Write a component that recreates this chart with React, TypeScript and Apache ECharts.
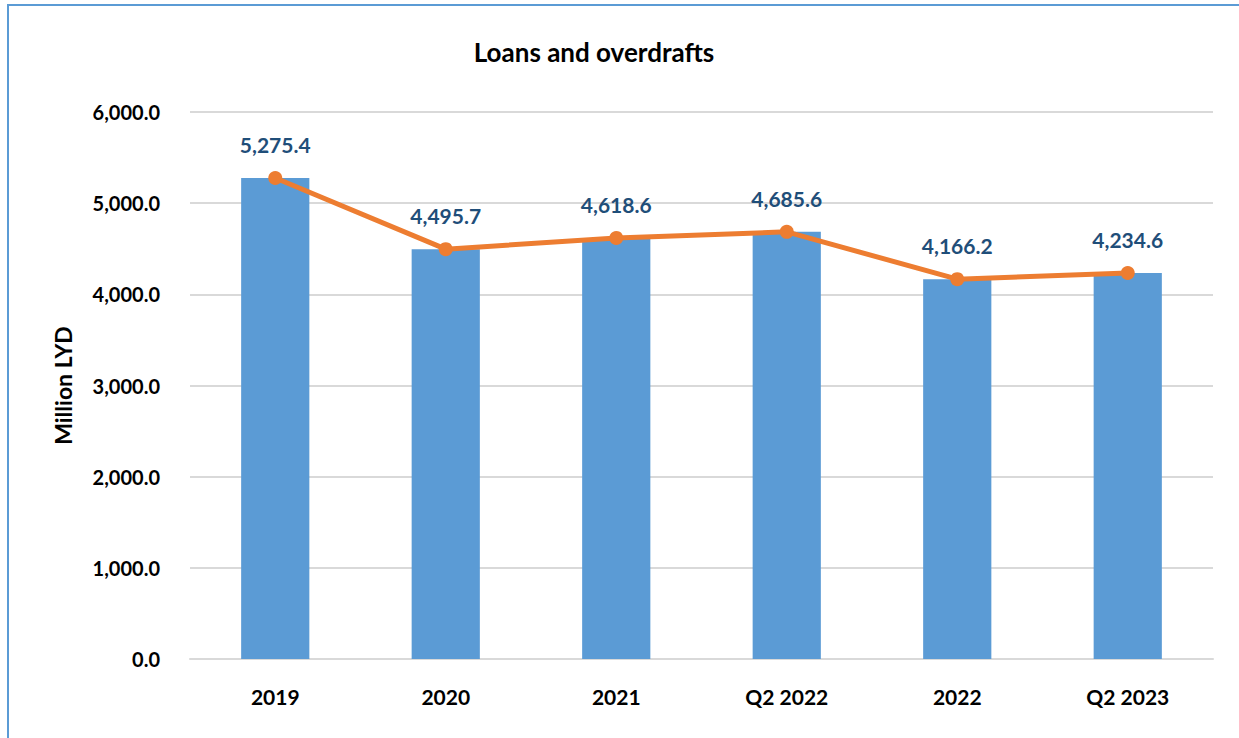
import React, { useEffect, useRef } from "react";
import * as echarts from "echarts";

const categories = ["2019", "2020", "2021", "Q2 2022", "2022", "Q2 2023"];
const barValues = [5275.4, 4495.7, 4618.6, 4685.6, 4166.2, 4234.6];
const lineValues = [5275.4, 4495.7, 4618.6, 4685.6, 4166.2, 4234.6];

const fmt = (v: number) =>
  v.toLocaleString("en-US", { minimumFractionDigits: 1, maximumFractionDigits: 1 });

export default function App() {
  const ref = useRef<HTMLDivElement>(null);
  useEffect(() => {
    const chart = echarts.init(ref.current!, null, { renderer: "svg" });
    const font = "Lato, 'Open Sans', sans-serif";
    chart.setOption({
      animation: false,
      backgroundColor: "#ffffff",
      title: {
        text: "Loans and overdrafts",
        left: 589,
        textAlign: "center",
        top: 34,
        textStyle: { fontFamily: font, fontWeight: "bold", fontSize: 26, color: "#000" },
      },
      graphic: [
        {
          type: "rect",
          shape: { x: 8, y: 5, width: 1300, height: 800 },
          style: { fill: "none", stroke: "#5b9bd5", lineWidth: 2 },
          silent: true,
        },
      ],
      grid: { left: 190, right: 26, top: 112, bottom: 79, containLabel: false },
      xAxis: {
        type: "category",
        data: categories,
        axisLine: { show: true, lineStyle: { color: "#d9d9d9", width: 2 } },
        axisTick: { show: false },
        axisLabel: {
          margin: 27,
          fontFamily: font,
          fontWeight: "bold",
          fontSize: 21,
          color: "#000",
        },
      },
      yAxis: {
        type: "value",
        min: 0,
        max: 6000,
        interval: 1000,
        name: "Million LYD",
        nameLocation: "middle",
        nameGap: 116,
        nameRotate: 90,
        nameTextStyle: { fontFamily: font, fontWeight: "bold", fontSize: 23, color: "#000" },
        axisLine: { show: false },
        axisTick: { show: false },
        splitLine: { lineStyle: { color: "#d9d9d9", width: 2 } },
        axisLabel: {
          margin: 30,
          fontFamily: font,
          fontWeight: "bold",
          fontSize: 20,
          color: "#000",
          formatter: (v: number) => fmt(v),
        },
      },
      series: [
        {
          type: "bar",
          data: barValues,
          barWidth: "40%",
          itemStyle: { color: "#5b9bd5" },
        },
        {
          type: "line",
          data: lineValues,
          symbol: "circle",
          symbolSize: 14,
          lineStyle: { color: "#ed7d31", width: 5 },
          itemStyle: { color: "#ed7d31" },
          label: {
            show: true,
            position: "top",
            distance: 16,
            fontFamily: font,
            fontWeight: "bold",
            fontSize: 21,
            color: "#1f4e79",
            formatter: (p: any) => fmt(p.value),
          },
        },
      ],
    });
    return () => chart.dispose();
  }, []);
  return (
    <div
      ref={ref}
      style={{ position: "fixed", left: 0, top: 0, width: 1239, height: 738 }}
    />
  );
}
